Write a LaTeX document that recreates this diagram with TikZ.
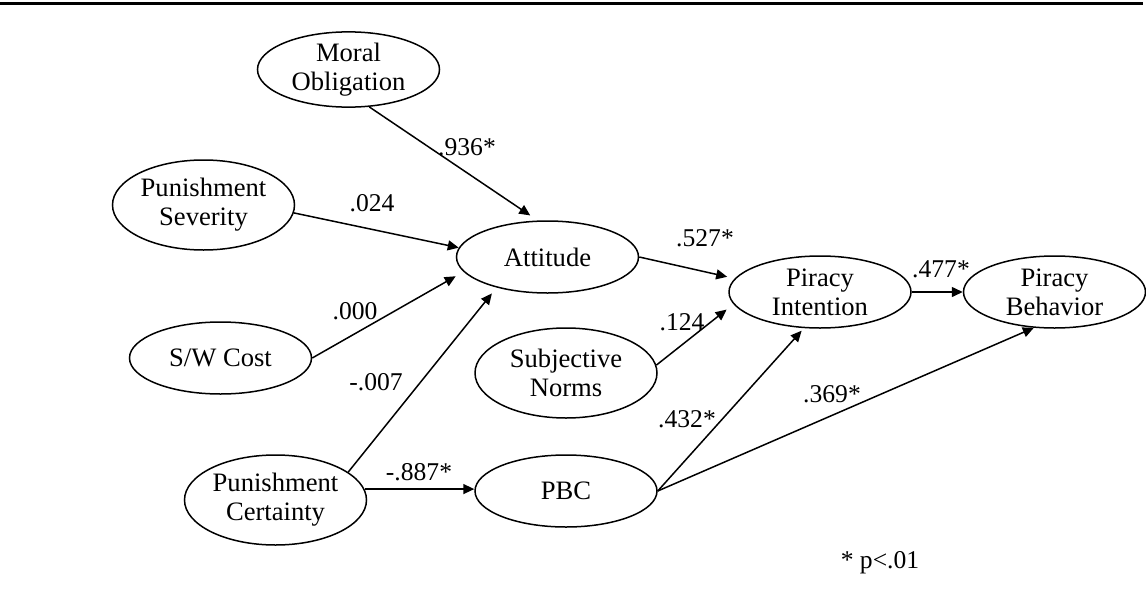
\documentclass[tikz,border=0pt]{standalone}
\usepackage{fontspec}
\setmainfont{Liberation Serif}
\usetikzlibrary{arrows.meta,shapes.geometric}

\begin{document}
\begin{tikzpicture}[x=.5pt,y=-.5pt,
  construct/.style={draw,ellipse,line width=.75pt,inner sep=0pt,
    minimum width=91pt,minimum height=36pt,align=center,
    font=\fontsize{13.3}{14.5}\selectfont},
  tall/.style={minimum height=45pt},
  effect/.style={line width=.75pt,-{Triangle[length=5.5pt,width=5pt]}},
  coef/.style={inner sep=0pt,font=\fontsize{12.8}{14}\selectfont}]
  \useasboundingbox (0,0) rectangle (1146,595);
  \draw[line width=1.5pt] (0,3.5) -- (1143,3.5);

  \node[construct,minimum height=37.5pt] (moral) at (348.5,69.5) {Moral\\Obligation};
  \node[construct,tall] (sev) at (203.5,205) {Punishment\\Severity};
  \node[construct] (cost) at (220.5,358) {S/W Cost};
  \node[construct,tall] (cert) at (275.5,500) {Punishment\\Certainty};
  \node[construct] (att) at (547.5,257) {Attitude};
  \node[construct,tall] (norms) at (566,373) {Subjective\\Norms};
  \node[construct] (pbc) at (566,491) {PBC};
  \node[construct] (intent) at (820,292) {Piracy\\Intention};
  \node[construct] (behav) at (1054.5,292) {Piracy\\Behavior};

  \draw[effect,shorten >=4.5pt] (moral.-61) -- (att.105.8);
  \draw[effect] (sev.-5) -- (att.174.3);
  \draw[effect,shorten >=4.5pt] (cost.east) -- (att.190.9);
  \draw[effect,shorten >=3.75pt] (cert.21.1) -- (att.211.2);
  \draw[effect] (cert.7) -- (cert.7 -| pbc.west);
  \draw[effect,shorten >=3.85pt] (att.east) -- (intent.171.1);
  \draw[effect,shorten >=4.35pt] (norms.5) -- (intent.188.5);
  \draw[effect,shorten >=1.7pt] (pbc.east) -- (intent.246.1);
  \draw[effect] (pbc.east) -- (behav.240.9);
  \draw[effect] (intent.east) -- (behav.west);

  \node[coef] (c-moral) at (467,147) {.936*};
  \node[coef] (c-sev) at (372,203) {.024};
  \node[coef] (c-cost) at (355,311) {.000};
  \node[coef] (c-cert) at (376,382) {-.007};
  \node[coef] (c-pbc) at (419,472) {-.887*};
  \node[coef] (c-att) at (705,238) {.527*};
  \node[coef] (c-norms) at (682,322) {.124};
  \node[coef] (c-int) at (687,419) {.432*};
  \node[coef] (c-beh) at (832,394) {.369*};
  \node[coef] (c-pi) at (941,269) {.477*};
  \node[coef] (note) at (880,563) {* p<.01};
\end{tikzpicture}
\end{document}
